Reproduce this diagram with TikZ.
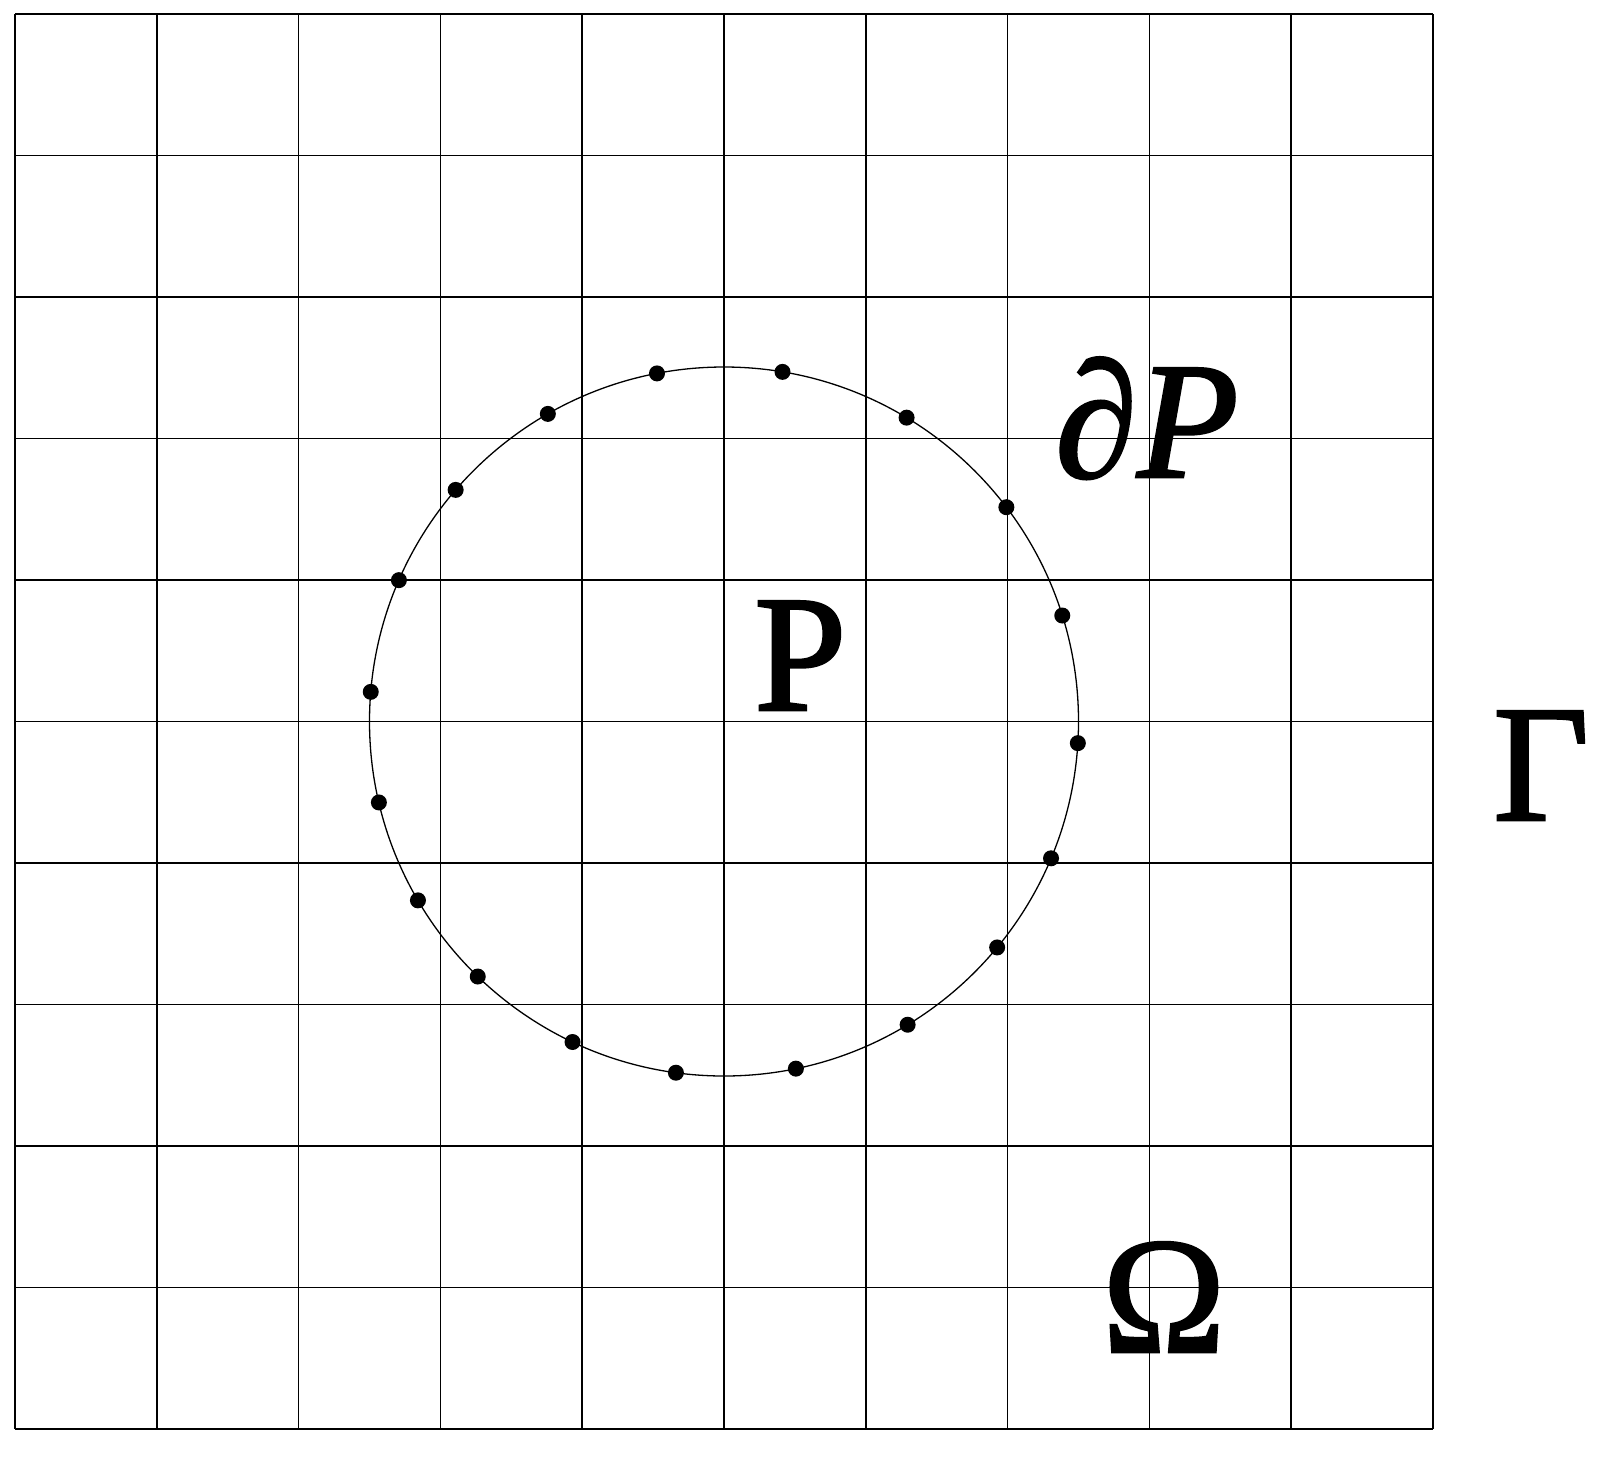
\documentclass[tikz,border=0pt]{standalone}
\usepackage{fontspec}
\usetikzlibrary{calc}
\setmainfont{Liberation Serif}[
  BoldFont={Liberation Serif},BoldFeatures={FakeBold=1.6},
  BoldItalicFont={Liberation Serif Italic},BoldItalicFeatures={FakeBold=1.6}]
\begin{document}
\begin{tikzpicture}[x=1pt,y=-1pt,
  gridline/.style={line width=1.5pt,black},
  circ/.style={line width=1.3pt,black},
  bdot/.style={circle,fill=black,inner sep=0pt,minimum size=16pt},
  lbl/.style={anchor=base west,inner sep=0pt,font=\fontsize{166}{166}\selectfont\bfseries}]
\useasboundingbox (0,0) rectangle (1598,1457);
\fill[white] (0,0) rectangle (1598,1457);
% grid
\foreach \i in {0,...,10}{
  \draw[gridline] ({15+141.8*\i},14) -- ({15+141.8*\i},1429);
  \draw[gridline] (15,{14+141.5*\i}) -- (1433,{14+141.5*\i});
}
% circle
\coordinate (c) at (724,721.5);
\draw[circ] (c) circle[radius=354.5];
% dots
\foreach \a [count=\k] in {-3.5,17.4,37.2,59.0,80.5,100.9,119.8,139.2,156.5,175.2,193.2,210.3,226.0,244.7,262.2,281.7,301.2,320.4,337.3}{
  \node[bdot] (d\k) at ($(c)+({354.5*cos(\a)},{-354.5*sin(\a)})$) {};
}
% labels
\node[lbl] (dP) at (1055,477) {∂\textit{P}};
\node[lbl] (P) at (754,710) {P};
\node[lbl] (G) at (1493,820) {Γ};
\node[lbl] (O) at (1102,1352) {Ω};
\end{tikzpicture}
\end{document}
